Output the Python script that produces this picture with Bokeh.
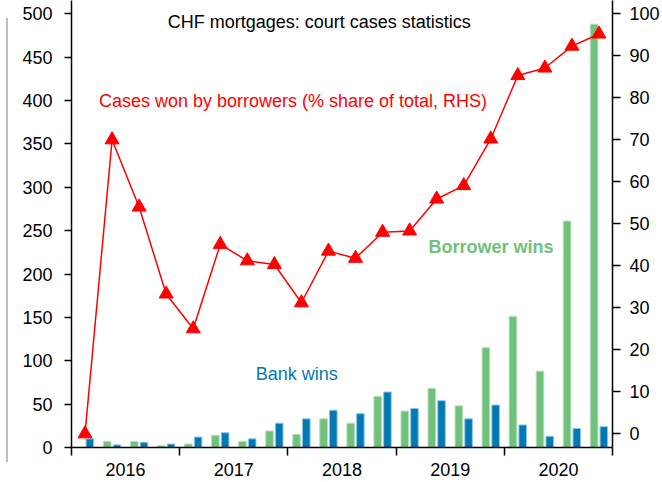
from bokeh.plotting import figure
from bokeh.models import Range1d, LinearAxis, FixedTicker, Label, ColumnDataSource
from bokeh.transform import dodge
from bokeh.embed import file_html
from bokeh.resources import INLINE

# ---- data ----
quarters = ["2016Q1", "2016Q2", "2016Q3", "2016Q4",
            "2017Q1", "2017Q2", "2017Q3", "2017Q4",
            "2018Q1", "2018Q2", "2018Q3", "2018Q4",
            "2019Q1", "2019Q2", "2019Q3", "2019Q4",
            "2020Q1", "2020Q2", "2020Q3", "2020Q4"]
borrower_wins = [0, 7, 7, 2, 4, 14, 7, 19, 15, 33, 28, 59, 42, 68, 48, 115, 151, 88, 261, 488]
bank_wins = [10, 3, 6, 4, 12, 17, 10, 28, 33, 43, 39, 64, 45, 54, 33, 49, 26, 13, 22, 24]
share_borrowers = [0, 70.0, 54.0, 33.3, 25.0, 45.1, 41.2, 40.3, 31.2, 43.5,
                   41.8, 48.0, 48.3, 55.9, 59.1, 70.2, 85.3, 87.1, 92.3, 95.2]
years = ["2016", "2017", "2018", "2019", "2020"]
left_ticks = [0, 50, 100, 150, 200, 250, 300, 350, 400, 450, 500]
right_ticks = [0, 10, 20, 30, 40, 50, 60, 70, 80, 90, 100]

FONT = "Liberation Sans"
GREEN = "#70C17A"
BLUE = "#0079B4"
RED = "#FF0000"

xpos = [i + 0.5 for i in range(len(quarters))]
src = ColumnDataSource(dict(x=xpos, q=quarters, borrower=borrower_wins,
                            bank=bank_wins, share=share_borrowers))

p = figure(width=662, height=482, output_backend="svg", toolbar_location=None,
           title=None, x_range=Range1d(0, len(quarters)), y_range=Range1d(0, 515.3),
           min_border_left=71, min_border_right=47, min_border_top=0,
           min_border_bottom=35, outline_line_color=None)
p.grid.visible = False
p.background_fill_color = "white"
p.border_fill_color = "white"
p.border_fill_alpha = 0
# thin grey decorative rule at the far left of the page (as in the reference)
p.styles = {
    "background-color": "white",
    "background-image": "linear-gradient(#BDBDBD, #BDBDBD)",
    "background-size": "2px 444px",
    "background-position": "6px 18px",
    "background-repeat": "no-repeat",
}
p.extra_y_ranges = {"pct": Range1d(-3.26, 103.17)}

# bars
p.vbar(x=dodge("x", -0.18, range=p.x_range), top="borrower", bottom=0, width=0.28,
       source=src, fill_color=GREEN, line_color="#B4DFB9", line_width=1)
p.vbar(x=dodge("x", 0.18, range=p.x_range), top="bank", bottom=0, width=0.28,
       source=src, fill_color=BLUE, line_color="#8CC6E4", line_width=1)

# share line
p.line(x="x", y="share", source=src, y_range_name="pct", line_color=RED, line_width=1.5)
p.scatter(x="x", y="share", source=src, y_range_name="pct", marker="triangle",
          size=14, fill_color=RED, line_color=RED)

def style_axis(ax):
    ax.axis_line_color = "black"
    ax.axis_line_width = 1.5
    ax.major_tick_line_color = "black"
    ax.major_tick_line_width = 1.5
    ax.minor_tick_line_color = "black"
    ax.minor_tick_line_width = 1.5
    ax.major_label_text_font = FONT
    ax.major_label_text_font_size = "18px"
    ax.major_label_text_color = "black"

# left axis
yl = p.yaxis[0]
yl.ticker = FixedTicker(ticks=left_ticks)
style_axis(yl)
yl.major_tick_in = 0
yl.major_tick_out = 7
yl.minor_tick_out = 0
yl.minor_tick_in = 0
yl.major_label_standoff = 12

# right axis
yr = LinearAxis(y_range_name="pct", ticker=FixedTicker(ticks=right_ticks))
style_axis(yr)
yr.major_tick_in = 0
yr.major_tick_out = 8
yr.minor_tick_out = 0
yr.minor_tick_in = 0
yr.major_label_standoff = 9
p.add_layout(yr, "right")

# bottom axis: year labels centred, ticks at year boundaries
xa = p.xaxis[0]
centers = [4 * k + 2 for k in range(len(years))]
bounds = [4 * k for k in range(len(years) + 1)]
xa.ticker = FixedTicker(ticks=centers, minor_ticks=bounds)
xa.major_label_overrides = {c: y for c, y in zip(centers, years)}
style_axis(xa)
xa.major_tick_out = 0
xa.major_tick_in = 0
xa.minor_tick_out = 8
xa.minor_tick_in = 0
xa.major_label_standoff = 7

# text annotations
p.add_layout(Label(x=9.16, y=490, text="CHF mortgages: court cases statistics",
                   text_font=FONT, text_font_size="18px", text_color="black",
                   text_align="center", text_baseline="middle"))
p.add_layout(Label(x=8.19, y=400, text="Cases won by borrowers (% share of total, RHS)",
                   text_font=FONT, text_font_size="18px", text_color=RED,
                   text_align="center", text_baseline="middle"))
p.add_layout(Label(x=15.51, y=230.7, text="Borrower wins",
                   text_font=FONT, text_font_size="18px", text_font_style="bold",
                   text_color=GREEN, text_align="center", text_baseline="middle"))
p.add_layout(Label(x=8.33, y=84.2, text="Bank wins",
                   text_font=FONT, text_font_size="18px", text_color=BLUE,
                   text_align="center", text_baseline="middle"))

open("out.html", "w").write(file_html(p, INLINE))
